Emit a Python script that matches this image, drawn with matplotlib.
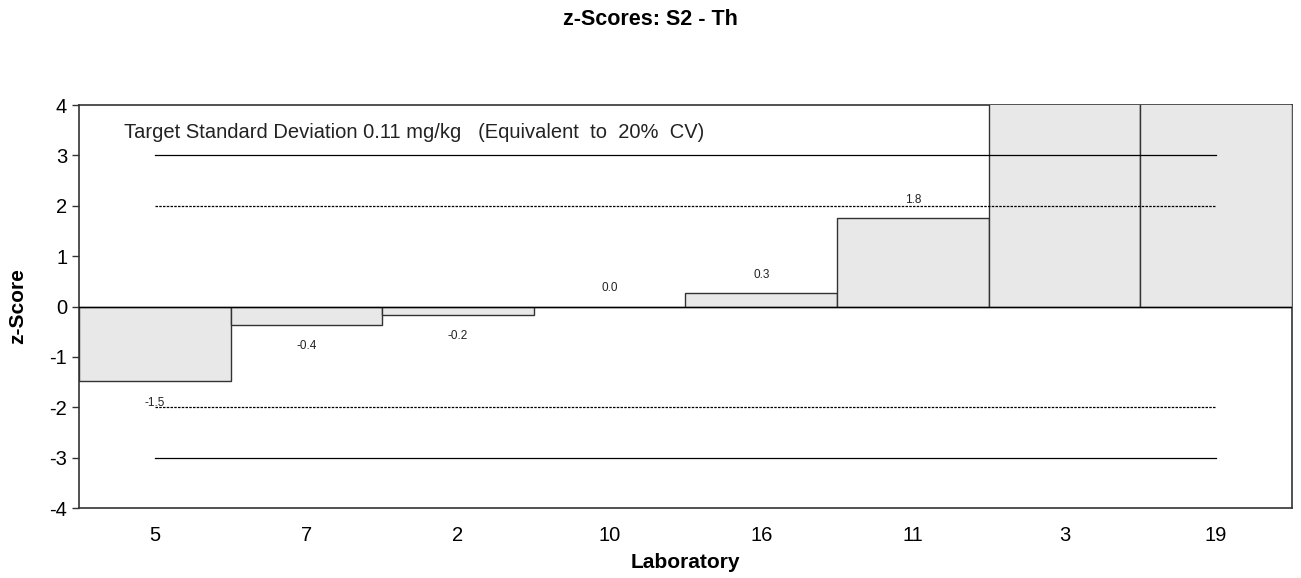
import matplotlib
matplotlib.use("Agg")
import matplotlib.pyplot as plt

plt.rcParams["font.family"] = ["Liberation Sans", "DejaVu Sans"]
plt.rcParams["axes.unicode_minus"] = False

labs = ["5", "7", "2", "10", "16", "11", "3", "19"]
zscores = [-1.48, -0.36, -0.16, 0.0, 0.27, 1.75, 6.2, 9.4]
limits = [(3, "-"), (2, (0, (2, 1))), (-2, (0, (2, 1))), (-3, "-")]
note = "Target Standard Deviation 0.11 mg/kg   (Equivalent  to  20%  CV)"

fig = plt.figure(figsize=(13.01, 5.78), dpi=100)
ax = fig.add_axes([0.0607, 0.1211, 0.9323, 0.6972])
x = list(range(len(labs)))

ax.bar(x, zscores, width=1.0, color="#e8e8e8", edgecolor="#333333", linewidth=1.0, zorder=3)
ax.axhline(0, color="black", lw=1.0, zorder=4)
for y, ls in limits:
    ax.plot([x[0], x[-1]], [y, y], color="black", lw=0.9, ls=ls, zorder=4)

# value labels; ones beyond the axis are clipped off like in the original
for xi, v in zip(x, zscores):
    if abs(v) > 3.6: continue
    off = 0.36 if v >= 0 else -0.43
    ax.text(xi, v + off, f"{v:.1f}", ha="center", va="center", fontsize=8.5,
            color="#222222", zorder=5)

ax.text(-0.2, 3.45, note, ha="left", va="center", fontsize=14.5, color="#222222", zorder=5)

ax.set_xlim(-0.5, 7.5)
ax.set_ylim(-4, 4)
ax.set_yticks(range(-4, 5))
ax.set_xticks(x)
ax.set_xticklabels(labs)
ax.tick_params(axis="y", labelsize=14.5, length=5, width=1, color="#333333")
ax.tick_params(axis="x", labelsize=14.5, length=0, pad=13)
for s in ax.spines.values():
    s.set_color("#333333")
    s.set_linewidth(1.2)
    s.set_zorder(2)

ax.set_ylabel("z-Score", fontsize=15, fontweight="bold", labelpad=16)
ax.set_xlabel("Laboratory", fontsize=15, fontweight="bold", labelpad=6)
fig.suptitle("z-Scores: S2 - Th", fontsize=15.5, fontweight="bold", y=0.985)

fig.savefig("out.png", dpi=100)
